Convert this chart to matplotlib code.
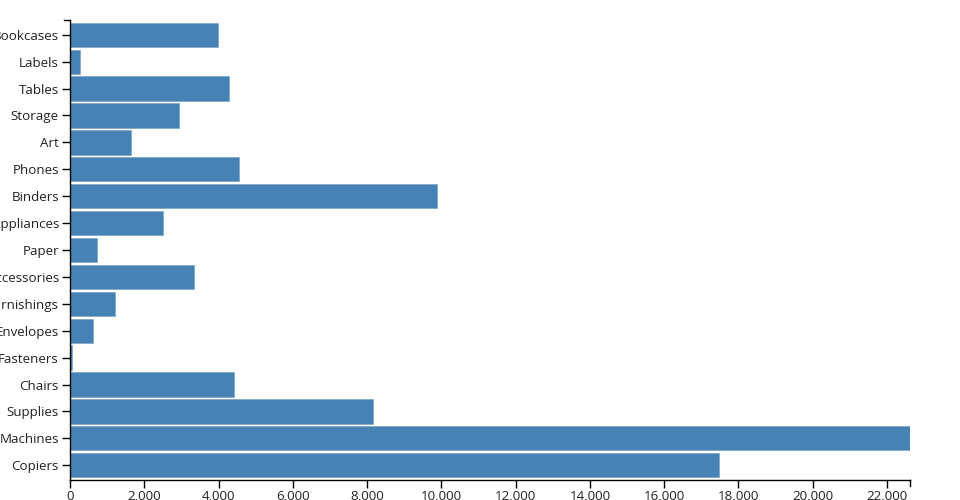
import matplotlib
matplotlib.use("Agg")
import matplotlib.pyplot as plt
from matplotlib.ticker import FuncFormatter

categories = ["Bookcases", "Labels", "Tables", "Storage", "Art", "Phones",
              "Binders", "Appliances", "Paper", "Accessories", "Furnishings",
              "Envelopes", "Fasteners", "Chairs", "Supplies", "Machines", "Copiers"]
values = [3990, 270, 4290, 2925, 1640, 4540, 9880, 2510, 727, 3346, 1203,
          611, 54, 4406, 8156, 22620, 17478]
x_ticks = list(range(0, 22001, 2000))

plt.rcParams["font.family"] = ["Open Sans", "DejaVu Sans"]

fig = plt.figure(figsize=(9.6, 5), dpi=100)
ax = fig.add_axes([70 / 960, 20 / 500, 840 / 960, 460 / 500])

pos = list(range(len(categories)))
ax.barh(pos, values, height=0.9, color="#4682b4", edgecolor="#6f9cc4",
        linewidth=0.4)

ax.set_xlim(0, max(values))
ax.set_ylim(len(categories) - 0.45, -0.55)
ax.set_yticks(pos)
ax.set_yticklabels(categories)
ax.set_xticks(x_ticks)
ax.xaxis.set_major_formatter(FuncFormatter(lambda v, _: f"{int(v):,}"))

for s in ("top", "right"):
    ax.spines[s].set_visible(False)
for s in ("left", "bottom"):
    ax.spines[s].set_linewidth(1)
    ax.spines[s].set_color("black")
ax.tick_params(axis="both", length=6, width=1, color="black",
               labelsize=9.6, labelcolor="#222222")
ax.tick_params(axis="x", pad=1)
ax.tick_params(axis="y", pad=2)

# domain end ticks like d3 axes
ax.plot([0, -6 / 840], [1, 1], transform=ax.transAxes, color="black",
        lw=1, clip_on=False)
ax.plot([1, 1], [0, -6 / 460], transform=ax.transAxes, color="black",
        lw=1, clip_on=False)

fig.savefig("out.png", dpi=100)
